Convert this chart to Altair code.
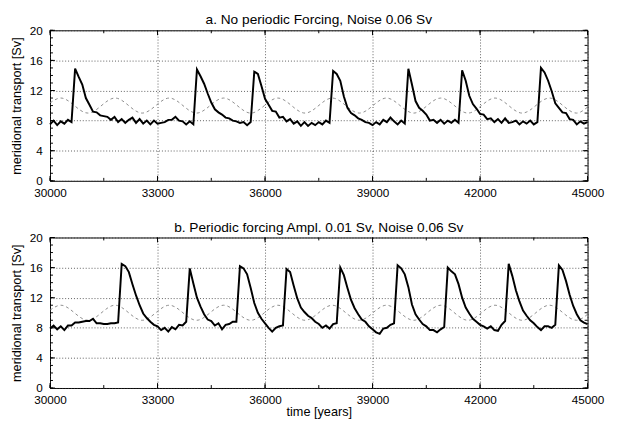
import altair as alt
import pandas as pd

# ---------------- data ----------------
T_START, T_STEP = 30000, 100   # samples every 100 years, 30000 .. 45000

# a. No periodic forcing, noise 0.06 Sv  (meridional transport, Sv)
transport_a = [
    7.5, 8.0, 7.4, 7.9, 7.6, 8.1, 7.8, 14.9, 13.8, 12.8,
    11.0, 10.1, 9.2, 9.1, 8.7, 8.6, 8.5, 8.1, 8.5, 7.8,
    8.2, 7.7, 8.1, 8.4, 7.7, 8.2, 7.6, 8.0, 7.5, 8.0,
    7.6, 7.7, 7.8, 8.1, 8.1, 8.5, 8.0, 7.9, 7.5, 7.9,
    7.5, 14.8, 13.9, 12.9, 11.6, 10.4, 9.5, 9.1, 8.8, 8.4,
    8.3, 8.0, 7.9, 7.7, 7.8, 7.4, 7.8, 14.5, 14.2, 12.6,
    10.9, 10.1, 9.3, 9.2, 8.4, 8.5, 7.9, 8.2, 7.6, 7.9,
    7.3, 7.8, 7.3, 7.7, 7.4, 7.8, 7.5, 8.0, 7.7, 14.6,
    14.2, 13.3, 11.2, 9.7, 9.0, 8.7, 8.3, 8.1, 7.8, 7.7,
    7.4, 7.8, 7.5, 8.1, 7.8, 8.4, 7.9, 7.5, 8.0, 7.6,
    14.9, 12.8, 10.6, 9.7, 9.3, 8.8, 8.0, 8.1, 7.7, 8.1,
    7.6, 8.0, 7.7, 8.1, 7.7, 14.7, 13.3, 11.3, 10.2, 9.6,
    8.9, 8.8, 8.2, 8.3, 7.8, 8.2, 7.7, 8.3, 7.7, 7.8,
    8.0, 7.5, 7.9, 7.6, 8.0, 7.5, 7.8, 15.0, 14.4, 13.3,
    11.9, 10.3, 9.7, 9.1, 9.0, 8.2, 8.1, 7.5, 7.9, 7.6,
    7.8,
]

# b. Periodic forcing ampl. 0.01 Sv, noise 0.06 Sv
transport_b = [
    7.9, 8.3, 7.8, 8.2, 7.7, 8.3, 8.3, 8.7, 8.7, 8.8,
    8.9, 8.9, 9.2, 8.6, 8.6, 8.5, 8.5, 8.6, 8.6, 8.7,
    16.5, 16.2, 15.4, 13.8, 12.3, 11.0, 9.9, 9.3, 8.8, 8.4,
    8.2, 7.7, 8.0, 7.5, 8.1, 7.8, 8.4, 8.3, 8.8, 15.9,
    13.9, 12.0, 10.8, 9.8, 9.1, 8.9, 8.3, 8.6, 7.8, 8.4,
    8.5, 8.8, 8.8, 16.2, 15.9, 15.1, 13.3, 11.3, 10.0, 9.2,
    8.6, 8.0, 7.5, 8.0, 8.2, 8.3, 15.8, 15.4, 13.6, 11.9,
    10.7, 10.1, 9.6, 9.3, 8.8, 8.5, 8.0, 8.3, 7.9, 8.5,
    8.6, 16.0, 15.0, 13.3, 11.7, 10.6, 9.8, 9.1, 8.8, 8.2,
    7.8, 7.4, 7.2, 7.9, 8.0, 8.4, 8.6, 16.3, 15.9, 15.1,
    13.4, 11.1, 9.8, 9.1, 8.5, 8.2, 7.7, 7.7, 7.4, 7.8,
    8.1, 16.0, 15.5, 15.1, 13.8, 12.0, 10.7, 9.9, 9.2, 8.8,
    8.4, 8.2, 7.9, 8.2, 7.7, 7.6, 8.4, 8.9, 16.5, 14.9,
    13.0, 11.5, 10.3, 9.6, 9.0, 8.6, 8.1, 7.7, 8.2, 8.2,
    8.0, 8.4, 16.3, 15.7, 14.2, 12.4, 10.9, 9.8, 9.0, 8.7,
    8.5,
]

# dashed reference cycle: times of maxima (11 Sv) and minima (9 Sv)
cycle_max_t = [30300, 31815, 33330, 34845, 36360, 37875, 39390, 40905, 42420, 43935]
cycle_min_t = [31058, 32573, 34088, 35603, 37118, 38633, 40148, 41663, 43178, 44693]
cycle_max_v, cycle_min_v = 11.0, 9.0
cycle_end_t = [30000, 45000]
cycle_end_v = [10.35, 9.8]

x_major = [30000, 33000, 36000, 39000, 42000, 45000]
x_minor = [30000, 31500, 33000, 34500, 36000, 37500, 39000, 40500, 42000, 43500, 45000]
y_major = [0, 4, 8, 12, 16, 20]
y_minor = [0, 1, 2, 3, 4, 5, 6, 7, 8, 9, 10, 11, 12, 13, 14, 15, 16, 17, 18, 19, 20]

title_a = "a. No periodic Forcing, Noise 0.06 Sv"
title_b = "b. Periodic forcing Ampl. 0.01 Sv, Noise 0.06 Sv"
y_title = "meridional transport [Sv]"
x_title = "time [years]"

# ---------------- chart ----------------
W, H = 550, 154
FONT = "Liberation Sans"
XS = alt.Scale(domain=[30000, 45000], nice=False, zero=False)
YS = alt.Scale(domain=[0, 20], nice=False, zero=False)

cycle_df = pd.DataFrame({
    "time": cycle_end_t + cycle_max_t + cycle_min_t,
    "value": cycle_end_v + [cycle_max_v] * len(cycle_max_t) + [cycle_min_v] * len(cycle_min_t),
}).sort_values("time")

GRID = dict(grid=True, gridDash=[1, 2], gridColor="#333", gridWidth=0.8,
            ticks=False, tickSize=0, domain=False)


def axes(with_xtitle):
    if with_xtitle:
        xaxis = alt.Axis(values=x_major, format="d", labelPadding=7, labelFlush=False,
                         title=x_title, titlePadding=0, **GRID)
    else:
        xaxis = alt.Axis(values=x_major, format="d", labelPadding=7, labelFlush=False,
                         title=None, **GRID)
    yaxis = alt.Axis(values=y_major, labelPadding=8, title=y_title,
                     titlePadding=6, **GRID)
    return xaxis, yaxis


def tick_layers(length_px, xs, ys, xaxis, yaxis):
    xdf = pd.DataFrame({"v": xs})
    ydf = pd.DataFrame({"v": ys})
    base_x = alt.Chart(xdf).mark_rule(color="black", strokeWidth=1)
    base_y = alt.Chart(ydf).mark_rule(color="black", strokeWidth=1)
    xenc = alt.X("v:Q", scale=XS, axis=xaxis)
    yenc = alt.Y("v:Q", scale=YS, axis=yaxis)
    return [
        base_x.encode(x=xenc, y=alt.value(H), y2=alt.value(H - length_px)),
        base_x.encode(x=xenc, y=alt.value(0), y2=alt.value(length_px)),
        base_y.encode(y=yenc, x=alt.value(0), x2=alt.value(length_px)),
        base_y.encode(y=yenc, x=alt.value(W), x2=alt.value(W - length_px)),
    ]


def panel(values, title, with_xtitle):
    xaxis, yaxis = axes(with_xtitle)
    df = pd.DataFrame({
        "time": [T_START + T_STEP * i for i in range(len(values))],
        "transport": values,
    })
    main = alt.Chart(df).mark_line(color="black", strokeWidth=2.0, strokeJoin="miter").encode(
        x=alt.X("time:Q", scale=XS, axis=xaxis),
        y=alt.Y("transport:Q", scale=YS, axis=yaxis),
    )
    cyc = alt.Chart(cycle_df).mark_line(
        color="#808080", strokeWidth=0.9, strokeDash=[3, 3], interpolate="monotone"
    ).encode(
        x=alt.X("time:Q", scale=XS, axis=xaxis),
        y=alt.Y("value:Q", scale=YS, axis=yaxis),
    )
    layers = [cyc, main] + tick_layers(5, x_major, y_major, xaxis, yaxis) \
        + tick_layers(3, x_minor, y_minor, xaxis, yaxis)
    return alt.layer(*layers).properties(
        width=W, height=H,
        title=alt.Title(title, font=FONT, fontSize=14, fontWeight="normal",
                        offset=-3, frame="group"),
    )


chart = alt.vconcat(
    panel(transport_a, title_a, False),
    panel(transport_b, title_b, True),
    spacing=21,
).properties(
    padding={"left": 2, "top": 0, "right": 6, "bottom": 0},
).configure_view(
    stroke="black", strokeWidth=1
).configure_axis(
    labelFont=FONT, labelFontSize=12, labelColor="black",
    titleFont=FONT, titleFontSize=13, titleFontWeight="normal", titleColor="black",
).configure_title(anchor="middle", color="black")

chart.save("out.html", embed_options={"renderer": "svg", "actions": False})
